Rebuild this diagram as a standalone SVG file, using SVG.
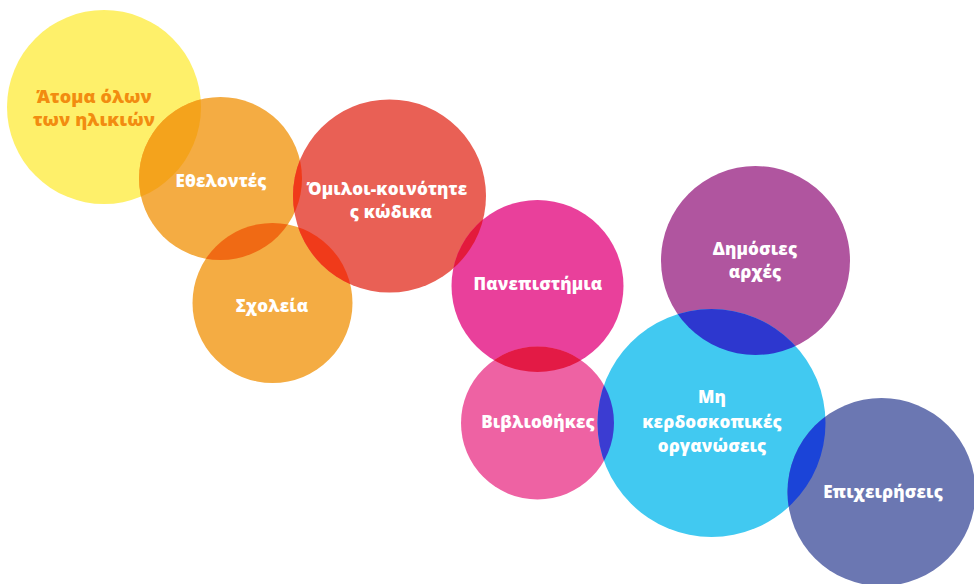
<svg xmlns="http://www.w3.org/2000/svg" width="974" height="584" viewBox="0 0 974 584">
<defs>
<style>
text{font-family:"Open Sans","Noto Sans","DejaVu Sans",sans-serif;font-weight:800;font-size:17px;letter-spacing:0.15px;fill:#ffffff;text-anchor:middle;}
.dark{fill:#F28C10;font-size:18px;letter-spacing:0.1px;}
</style>
<clipPath id="cY"><circle cx="104" cy="107" r="97"/></clipPath>
<clipPath id="cE"><circle cx="220.5" cy="178.5" r="81.5"/></clipPath>
<clipPath id="cS"><circle cx="272.5" cy="303" r="80"/></clipPath>
<clipPath id="cR"><circle cx="389.5" cy="196" r="96.5"/></clipPath>
<clipPath id="cP"><circle cx="537.5" cy="286" r="86"/></clipPath>
<clipPath id="cB"><circle cx="537.5" cy="423" r="76.5"/></clipPath>
<clipPath id="cD"><circle cx="755.5" cy="260.5" r="94.5"/></clipPath>
<clipPath id="cM"><circle cx="711.5" cy="423" r="114"/></clipPath>
</defs>
<rect width="974" height="584" fill="#ffffff"/>
<g id="node-atoma">
<circle cx="104" cy="107" r="97" fill="#FEF06A"/>
<text class="dark" x="94" y="103">Άτομα όλων</text>
<text class="dark" x="94" y="126">των ηλικιών</text>
</g>
<g id="node-ethelontes">
<circle cx="220.5" cy="178.5" r="81.5" fill="#F4AC43"/>
<circle cx="220.5" cy="178.5" r="81.5" fill="#F4A31C" clip-path="url(#cY)"/>
<text class="dark" x="94" y="126" clip-path="url(#cE)">των ηλικιών</text>
<text x="221" y="187">Εθελοντές</text>
</g>
<g id="node-scholeia">
<circle cx="272.5" cy="303" r="80" fill="#F4AC43"/>
<circle cx="272.5" cy="303" r="80" fill="#F06A14" clip-path="url(#cE)"/>
<text x="272" y="312">Σχολεία</text>
</g>
<g id="node-omiloi">
<circle cx="389.5" cy="196" r="96.5" fill="#E96055"/>
<circle cx="389.5" cy="196" r="96.5" fill="#F03A1A" clip-path="url(#cE)"/>
<circle cx="389.5" cy="196" r="96.5" fill="#F03A1A" clip-path="url(#cS)"/>
<text x="387" y="195">Όμιλοι-κοινότητε</text>
<text x="391" y="218">ς κώδικα</text>
</g>
<g id="node-panepistimia">
<circle cx="537.5" cy="286" r="86" fill="#E9409B"/>
<circle cx="537.5" cy="286" r="86" fill="#E31A3C" clip-path="url(#cR)"/>
<text x="538" y="290">Πανεπιστήμια</text>
</g>
<g id="node-vivliothikes">
<circle cx="537.5" cy="423" r="76.5" fill="#EE62A3"/>
<circle cx="537.5" cy="423" r="76.5" fill="#E31A45" clip-path="url(#cP)"/>
<text x="538" y="428">Βιβλιοθήκες</text>
</g>
<g id="node-dimosies">
<circle cx="755.5" cy="260.5" r="94.5" fill="#B0559F"/>
<text x="755" y="255">Δημόσιες</text>
<text x="755" y="278">αρχές</text>
</g>
<g id="node-mi-kerdoskopikes">
<circle cx="711.5" cy="423" r="114" fill="#41C9F1"/>
<circle cx="711.5" cy="423" r="114" fill="#3B3CD2" clip-path="url(#cB)"/>
<circle cx="711.5" cy="423" r="114" fill="#2D37CF" clip-path="url(#cD)"/>
<text x="712" y="403">Μη</text>
<text x="712" y="428">κερδοσκοπικές</text>
<text x="712" y="452">οργανώσεις</text>
</g>
<g id="node-epicheiriseis">
<circle cx="881.5" cy="492" r="94" fill="#6B77B2"/>
<circle cx="881.5" cy="492" r="94" fill="#1B44D8" clip-path="url(#cM)"/>
<text x="883" y="498">Επιχειρήσεις</text>
</g>
<g id="connectors"/>
</svg>
